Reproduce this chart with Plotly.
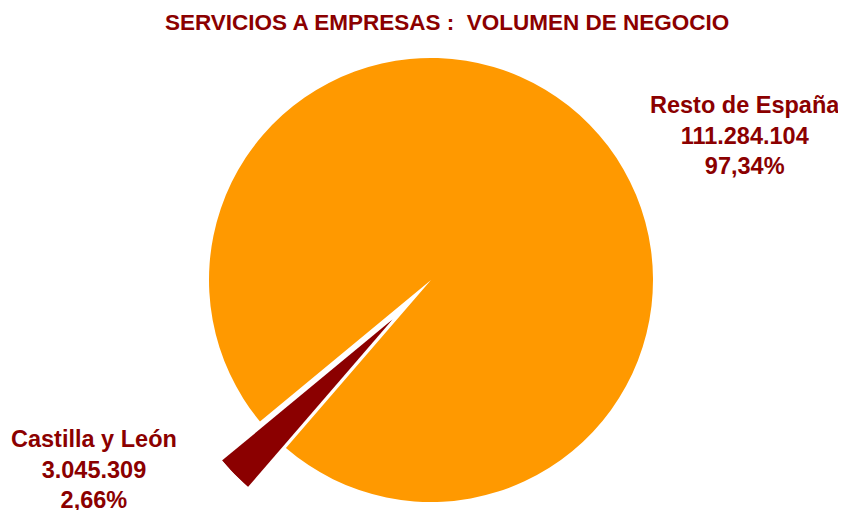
import math
import plotly.graph_objects as go

# Data
regions = ["Castilla y León", "Resto de España"]
values = [3045309, 111284104]
title_text = "SERVICIOS A EMPRESAS :  VOLUMEN DE NEGOCIO"

total = sum(values)
shares = [v / total for v in values]

def fmt_num(v):
    return f"{v:,}".replace(",", ".")

def fmt_pct(p, sep):
    return f"{p*100:.2f}".replace(".", sep) + "%"

DARK = "#8B0000"
ORANGE = "#FF9900"
OFF = 8                      # default page body margin
W, H = 846 - OFF, 510 - OFF  # figure size so that it fills the window

def px(x):  # page x -> figure paper fraction
    return (x - OFF) / W

def py(y):  # page y (from top) -> figure paper fraction
    return 1 - (y - OFF) / H

# layout geometry (page pixels)
cx, cy, R = 431, 280, 222          # main pie centre and radius
start_clock = 220.8                 # clockwise-from-12 start angle of the small slice
vx, vy = 393, 319                   # vertex of the exploded slice

fig = go.Figure()

# Main pie: small slice left empty (it is drawn exploded below)
fig.add_trace(go.Pie(
    labels=regions, values=values, sort=False, direction="clockwise",
    rotation=start_clock, textinfo="none", hoverinfo="label+value+percent",
    marker=dict(colors=["rgba(0,0,0,0)", ORANGE], line=dict(width=0)),
    showlegend=False,
    domain=dict(x=[px(cx - R), px(cx + R)], y=[py(cy + R), py(cy - R)]),
))

# Exploded slice as a polar bar in a sector-limited polar subplot
width_deg = 360 * shares[0]
start_math = 90 - start_clock - width_deg   # math angle (CCW from east) of the slice start
theta_c = start_math + width_deg / 2
sec = [start_math - 5.6, start_math + width_deg + 5.6]

def bbox(s0, s1):
    xs = [0, math.cos(math.radians(s0)), math.cos(math.radians(s1))]
    ys = [0, math.sin(math.radians(s0)), math.sin(math.radians(s1))]
    return min(xs), min(ys), max(xs), max(ys)

x0, y0, x1, y1 = bbox(*sec)
fig.add_trace(go.Barpolar(
    r=[1], theta=[theta_c], width=[width_deg], base=0,
    marker=dict(color=DARK, line=dict(width=0)),
    name=regions[0], showlegend=False, subplot="polar",
))
fig.update_layout(polar=dict(
    sector=sec,
    domain=dict(x=[px(vx + R * x0), px(vx + R * x1)],
                y=[py(vy - R * y0), py(vy - R * y1)]),
    bgcolor="rgba(0,0,0,0)",
    radialaxis=dict(visible=False, range=[0, 1], showgrid=False),
    angularaxis=dict(visible=False, showgrid=False, rotation=0, direction="counterclockwise"),
))

font_fam = "Liberation Sans, Arial, sans-serif"
ann = [
    dict(text=title_text, x=px(447), y=py(23), xref="paper", yref="paper",
         xanchor="center", yanchor="middle", showarrow=False,
         font=dict(family=font_fam, size=22.5, color=DARK, weight="bold")),
    dict(text=f"{regions[1]}<br>{fmt_num(values[1])}<br>{fmt_pct(shares[1], ',')}",
         x=px(745), y=py(135), xref="paper", yref="paper",
         xanchor="center", yanchor="middle", showarrow=False,
         font=dict(family=font_fam, size=23.5, color=DARK, weight="bold")),
    dict(text=f"{regions[0]}<br>{fmt_num(values[0])}<br>{fmt_pct(shares[0], ',')}",
         x=px(94), y=py(469), xref="paper", yref="paper",
         xanchor="center", yanchor="middle", showarrow=False,
         font=dict(family=font_fam, size=23.5, color=DARK, weight="bold")),
]

fig.update_layout(
    width=W, height=H, margin=dict(l=0, r=0, t=0, b=0),
    paper_bgcolor="white", plot_bgcolor="white",
    annotations=ann, showlegend=False,
)

fig.write_html("out.html")
